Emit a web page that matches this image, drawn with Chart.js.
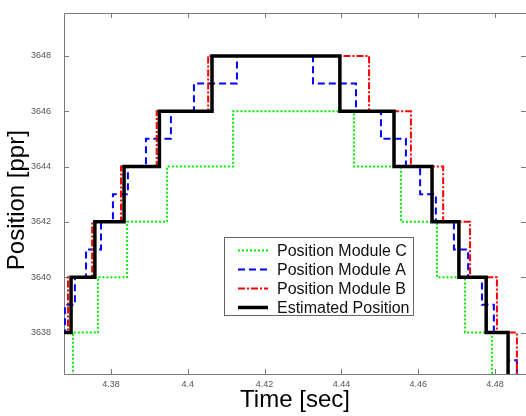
<!DOCTYPE html>
<html>
<head>
<meta charset="utf-8">
<script src="https://cdn.jsdelivr.net/npm/chart.js@4/dist/chart.umd.min.js"></script>
<style>
    body { margin: 0; background: #fff; }
    #wrap { width: 526px; height: 416px; position: relative; }
</style>
</head>
<body>
<div id="wrap"><canvas id="posChart"></canvas></div>
<script>
// Step times [sec] and positions [ppr]
const tModC = [4.3670, 4.3701, 4.3766, 4.3842, 4.3946, 4.4118, 4.4433, 4.4555, 4.4649, 4.4722, 4.4792, 4.4900];
const pModC = [3636, 3638, 3640, 3642, 3644, 3646, 3644, 3642, 3640, 3638, 3636, 3636];

const tModA = [4.3670, 4.3680, 4.3706, 4.3735, 4.3774, 4.3805, 4.3844, 4.3891, 4.3956, 4.4016, 4.4128,
               4.4326, 4.4438, 4.4503, 4.4568, 4.4605, 4.4646, 4.4693, 4.4730, 4.4766, 4.4797, 4.4834, 4.4857, 4.4900];
const pModA = [3638, 3639, 3640, 3641, 3642, 3643, 3644, 3645, 3646, 3647, 3648,
               3647, 3646, 3645, 3644, 3643, 3642, 3641, 3640, 3639, 3638, 3637, 3636, 3636];

const tModB = [4.3670, 4.3688, 4.3751, 4.3826, 4.3919, 4.4053, 4.4472, 4.4581, 4.4665, 4.4735, 4.4805, 4.4857, 4.4900];
const pModB = [3638, 3640, 3642, 3644, 3646, 3648, 3646, 3644, 3642, 3640, 3638, 3636, 3636];

const tEst = [4.3670, 4.3696, 4.3758, 4.3834, 4.3926, 4.4063, 4.4396, 4.4537, 4.4636, 4.4706, 4.4777, 4.4834, 4.4900];
const pEst = [3638, 3640, 3642, 3644, 3646, 3648, 3646, 3644, 3642, 3640, 3638, 3636, 3636];

const xTicks = [4.38, 4.40, 4.42, 4.44, 4.46, 4.48];
const xTickLabels = ['4.38', '4.4', '4.42', '4.44', '4.46', '4.48'];
const yTicks = [3638, 3640, 3642, 3644, 3646, 3648];

const FONT = "'Liberation Sans', Arial, Helvetica, sans-serif";

function toPoints(ts, ps) {
    return ts.map((t, i) => ({ x: t, y: ps[i] }));
}

// MATLAB-like box with inward ticks on all four sides
const boxPlugin = {
    id: 'box',
    beforeDatasetsDraw(chart) {
        const { ctx, chartArea: a, scales } = chart;
        const len = 5;
        ctx.save();
        ctx.strokeStyle = '#7a7a7a';
        ctx.lineWidth = 1;
        ctx.beginPath();
        ctx.moveTo(a.left + 0.5, a.bottom + 0.5);
        ctx.lineTo(a.left + 0.5, a.top + 0.5);
        ctx.lineTo(a.right + 0.5, a.top + 0.5);
        ctx.moveTo(a.left + 0.5, a.bottom + 0.5);
        ctx.lineTo(a.right + 0.5, a.bottom + 0.5);
        xTicks.forEach(v => {
            const x = Math.round(scales.x.getPixelForValue(v)) + 0.5;
            ctx.moveTo(x, a.bottom); ctx.lineTo(x, a.bottom - len);
            ctx.moveTo(x, a.top); ctx.lineTo(x, a.top + len);
        });
        yTicks.forEach(v => {
            const y = Math.round(scales.y.getPixelForValue(v)) + 0.5;
            ctx.moveTo(a.left, y); ctx.lineTo(a.left + len, y);
            ctx.moveTo(a.right, y); ctx.lineTo(a.right - len, y);
        });
        ctx.stroke();
        ctx.restore();
    }
};

// Legend box inside the plot, lower middle
const legendPlugin = {
    id: 'boxLegend',
    afterDatasetsDraw(chart) {
        const { ctx, chartArea: a } = chart;
        const bx = a.left + 160, by = a.top + 224, bw = 189, bh = 78;
        ctx.save();
        ctx.fillStyle = '#fff';
        ctx.fillRect(bx, by, bw, bh);
        ctx.strokeStyle = '#666';
        ctx.lineWidth = 1;
        ctx.strokeRect(bx + 0.5, by + 0.5, bw, bh);
        ctx.font = '16px ' + FONT;
        ctx.textBaseline = 'middle';
        ctx.fillStyle = '#111';
        chart.data.datasets.forEach((ds, i) => {
            const y = by + 13.5 + i * 19;
            ctx.beginPath();
            ctx.strokeStyle = ds.borderColor;
            ctx.lineWidth = ds.borderWidth;
            ctx.setLineDash(ds.borderDash || []);
            ctx.moveTo(bx + 14, y);
            ctx.lineTo(bx + 44, y);
            ctx.stroke();
            ctx.setLineDash([]);
            ctx.fillText(ds.label, bx + 53, y + 1);
        });
        ctx.restore();
    }
};

const ctx = document.getElementById('posChart').getContext('2d');
new Chart(ctx, {
    type: 'line',
    data: {
        datasets: [{
            label: 'Position Module C',
            data: toPoints(tModC, pModC),
            borderColor: '#00ee00',
            borderWidth: 2,
            borderDash: [2, 2],
            order: 4
        }, {
            label: 'Position Module A',
            data: toPoints(tModA, pModA),
            borderColor: '#0000ff',
            borderWidth: 2,
            borderDash: [7, 4],
            order: 3
        }, {
            label: 'Position Module B',
            data: toPoints(tModB, pModB),
            borderColor: '#ff0000',
            borderWidth: 2,
            borderDash: [7, 2, 2, 2],
            order: 2
        }, {
            label: 'Estimated Position',
            data: toPoints(tEst, pEst),
            borderColor: '#000000',
            borderWidth: 3.5,
            order: 1
        }].map(ds => Object.assign(ds, { stepped: true, pointRadius: 0, fill: false, clip: 0 }))
    },
    options: {
        responsive: true,
        maintainAspectRatio: false,
        animation: false,
        layout: { padding: { top: 13, right: 0, left: 0, bottom: 0 } },
        plugins: {
            legend: { display: false },
            tooltip: { enabled: false }
        },
        scales: {
            x: {
                type: 'linear',
                min: 4.36776,
                max: 4.48807,
                afterBuildTicks: s => { s.ticks = xTicks.map(v => ({ value: v })); },
                afterFit: s => { s.height = 42; s.paddingLeft = 0; s.paddingRight = 0; },
                grid: { display: false, drawTicks: false },
                border: { display: false },
                ticks: {
                    autoSkip: false,
                    maxRotation: 0,
                    padding: 5,
                    color: '#555',
                    font: { family: FONT, size: 9 },
                    callback: (v, i) => xTickLabels[i]
                },
                title: {
                    display: true,
                    text: 'Time [sec]',
                    color: '#000',
                    font: { family: FONT, size: 24 },
                    padding: { top: 0, bottom: 1 }
                }
            },
            y: {
                min: 3636.5,
                max: 3649.55,
                afterBuildTicks: s => { s.ticks = yTicks.map(v => ({ value: v })); },
                afterFit: s => { s.width = 64; s.paddingTop = 0; s.paddingBottom = 0; },
                grid: { display: false, drawTicks: false },
                border: { display: false },
                ticks: {
                    padding: 13,
                    color: '#555',
                    font: { family: "'Liberation Sans Narrow', " + FONT, size: 9 },
                    callback: v => String(v)
                },
                title: {
                    display: true,
                    text: 'Position [ppr]  ',
                    color: '#000',
                    font: { family: FONT, size: 24 },
                    padding: { top: 3, bottom: 0 }
                }
            }
        }
    },
    plugins: [boxPlugin, legendPlugin]
});
</script>
</body>
</html>
